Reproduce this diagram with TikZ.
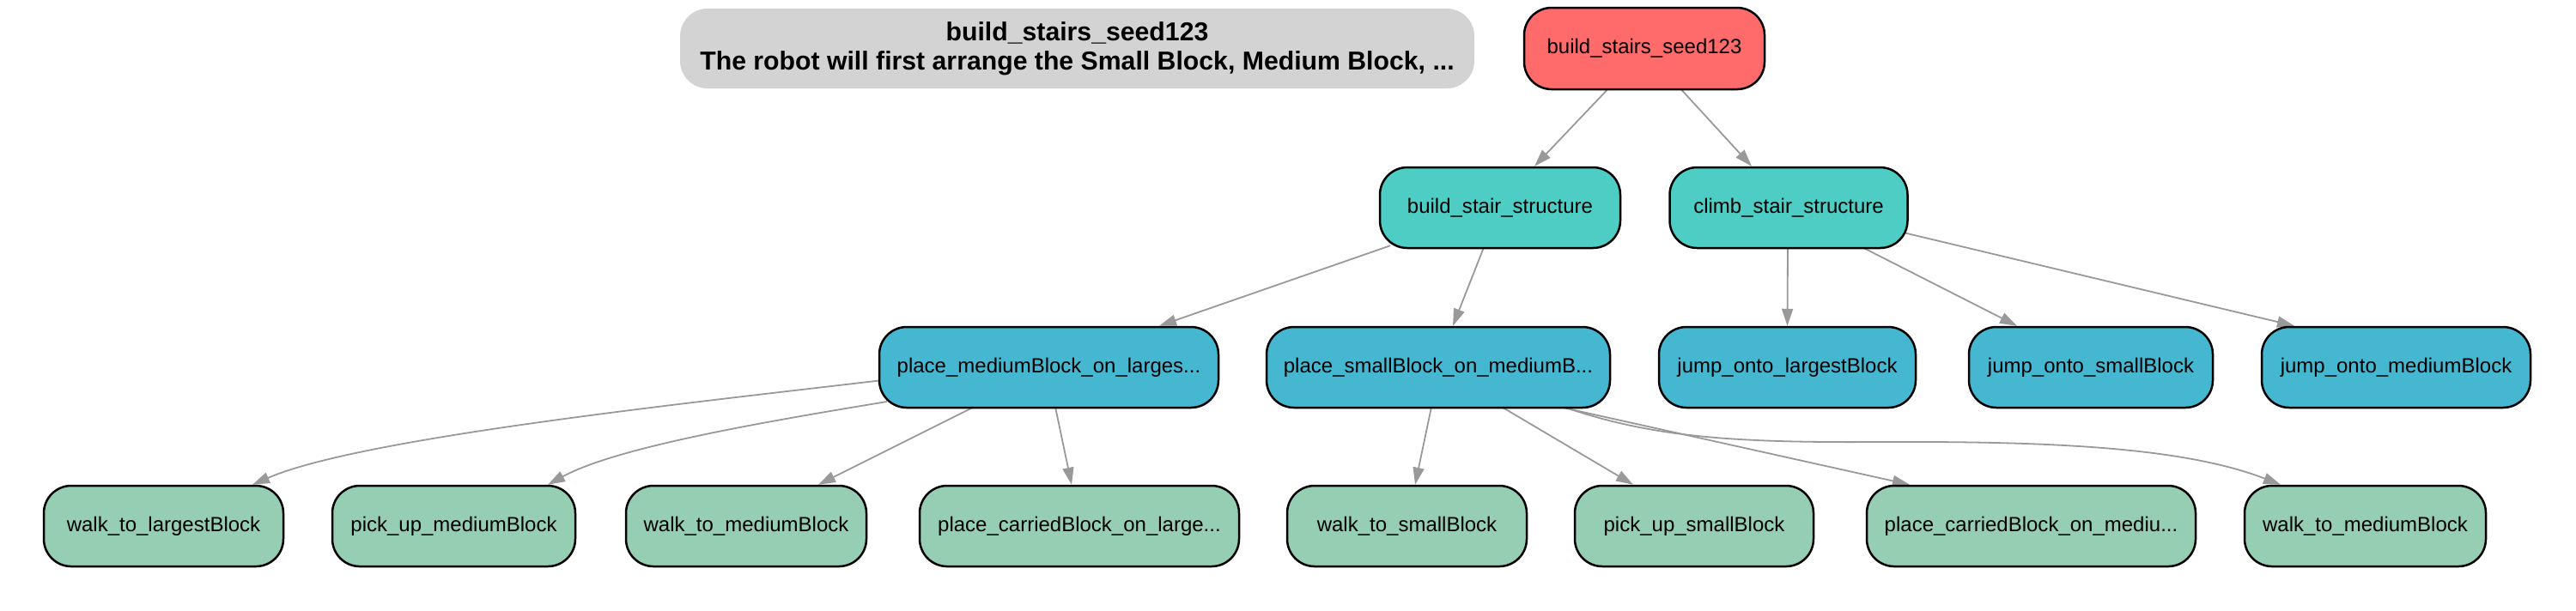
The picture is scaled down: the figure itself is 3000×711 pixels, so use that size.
\documentclass[tikz,border=0pt]{standalone}
\usepackage{fontspec}
\setmainfont{Liberation Sans}
\usetikzlibrary{arrows.meta,calc,backgrounds}
\definecolor{cred}{HTML}{FF6B6B}
\definecolor{cteal}{HTML}{4ECDC4}
\definecolor{cblue}{HTML}{45B7D1}
\definecolor{cgreen}{HTML}{96CEB4}
\definecolor{ctitle}{HTML}{D3D3D3}
\definecolor{cedge}{HTML}{999999}
\begin{document}
\begin{tikzpicture}[x=0.1mm,y=-0.1mm,
  box/.style={draw=black,line width=0.25mm,rounded corners=3.2mm,minimum height=9.4mm,inner sep=0pt,font=\fontsize{6.83pt}{8pt}\selectfont,text=black},
  rootbox/.style={box,fill=cred},
  midbox/.style={box,fill=cteal},
  taskbox/.style={box,fill=cblue},
  leafbox/.style={box,fill=cgreen},
  titlebox/.style={fill=ctitle,rounded corners=3.2mm,minimum height=9.3mm,inner sep=0pt,align=center,font=\fontsize{8.6pt}{9.7pt}\selectfont\bfseries},
  edge/.style={draw=cedge,line width=0.18mm,-{Triangle[length=2mm,width=1.3mm]}}
]
\useasboundingbox (0,0) rectangle (3000,711);

\node[titlebox,minimum width=92.5mm] (title) at (1254.5,56.5) {build\_stairs\_seed123\\The robot will first arrange the Small Block, Medium Block, ...};

\node[rootbox,minimum width=28mm,minimum height=9.5mm] (root) at (1915,56.5) {build\_stairs\_seed123};

\node[midbox,minimum width=28mm] (bss) at (1747,242) {build\_stair\_structure};
\node[midbox,minimum width=27.7mm] (css) at (2083,242) {climb\_stair\_structure};

\node[taskbox,minimum width=39.5mm] (pm) at (1221.5,428) {place\_mediumBlock\_on\_larges...};
\node[taskbox,minimum width=40mm] (ps) at (1675,428) {place\_smallBlock\_on\_mediumB...};
\node[taskbox,minimum width=29.9mm] (jl) at (2081.5,428) {jump\_onto\_largestBlock};
\node[taskbox,minimum width=28.4mm] (js) at (2435,428) {jump\_onto\_smallBlock};
\node[taskbox,minimum width=31.3mm] (jm) at (2790.5,428) {jump\_onto\_mediumBlock};

\node[leafbox,minimum width=27.9mm] (wl) at (190.5,613) {walk\_to\_largestBlock};
\node[leafbox,minimum width=28.3mm] (pum) at (528.5,613) {pick\_up\_mediumBlock};
\node[leafbox,minimum width=28mm] (wm1) at (869,613) {walk\_to\_mediumBlock};
\node[leafbox,minimum width=37.2mm] (pcl) at (1257,613) {place\_carriedBlock\_on\_large...};
\node[leafbox,minimum width=27.9mm] (wsm) at (1638.5,613) {walk\_to\_smallBlock};
\node[leafbox,minimum width=27.8mm] (pus) at (1973,613) {pick\_up\_smallBlock};
\node[leafbox,minimum width=38.3mm] (pcm) at (2365.5,613) {place\_carriedBlock\_on\_mediu...};
\node[leafbox,minimum width=28.1mm] (wm2) at (2754.5,613) {walk\_to\_mediumBlock};

\begin{scope}[on background layer]
\draw[edge] ($(root.south)+(-42,-2)$) -- ($(bss.north)+(40,0)$);
\draw[edge] ($(root.south)+(42,-2)$) -- ($(css.north)+(-43,0)$);

\draw[edge] ($(bss.south)+(-128,-4)$) -- ($(pm.north)+(128.5,0)$);
\draw[edge] ($(bss.south)+(-19,-2)$) -- ($(ps.north)+(17,0)$);

\draw[edge] ($(css.south)+(-1,-2)$) -- ($(jl.north)+(0,0)$);
\draw[edge] ($(css.south)+(86,-2)$) -- ($(js.north)+(-86,0)$);
\draw[edge] ($(css.east)+(-6,29)$) -- ($(jm.north)+(-118.5,0)$);

\draw[edge] ($(pm.west)+(5,15)$) .. controls (800,470) and (420,510) .. ($(wl.north)+(103.5,0)$);
\draw[edge] ($(pm.west)+(10,40)$) .. controls (900,490) and (720,520) .. ($(pum.north)+(109.5,0)$);
\draw[edge] ($(pm.south)+(-87.5,-2)$) -- ($(wm1.north)+(84,0)$);
\draw[edge] ($(pm.south)+(7.5,-2)$) -- ($(pcl.north)+(-9,0)$);

\draw[edge] ($(ps.south)+(-8,-2)$) -- ($(wsm.north)+(9.5,0)$);
\draw[edge] ($(ps.south)+(74,-2)$) -- ($(pus.north)+(-71,0)$);
\draw[edge] ($(ps.south)+(142,-2)$) -- ($(pcm.north)+(-141.5,0)$);
\draw[edge] ($(ps.south)+(146,-2)$) .. controls (1920,508) and (2010,516) .. (2180,515)
   .. controls (2380,514) and (2540,520) .. ($(wm2.north)+(-98.5,0)$);
\end{scope}
\end{tikzpicture}
\end{document}
